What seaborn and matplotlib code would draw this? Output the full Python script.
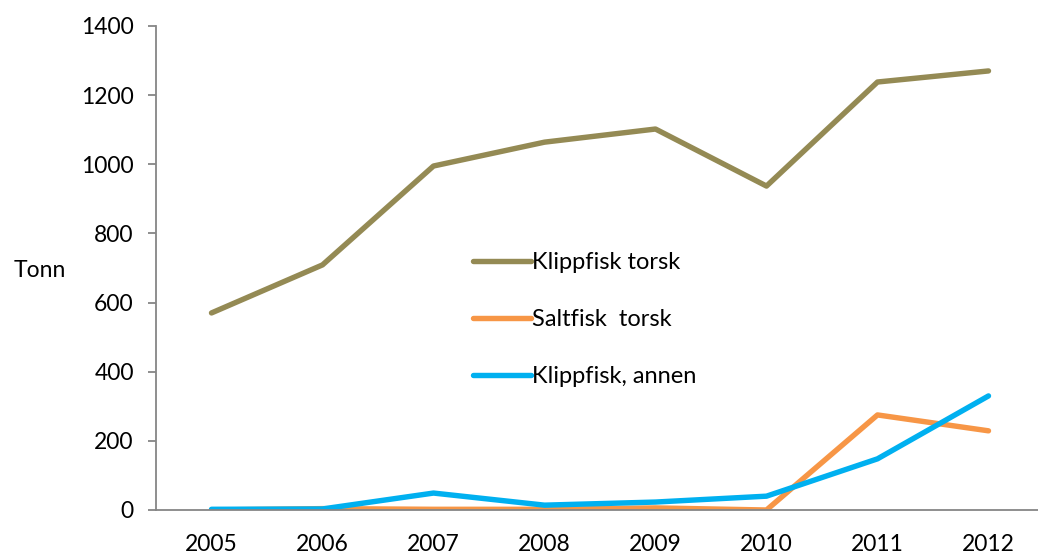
import matplotlib
matplotlib.use("Agg")
import matplotlib.pyplot as plt
import seaborn as sns
import pandas as pd

years = ["2005", "2006", "2007", "2008", "2009", "2010", "2011", "2012"]
klippfisk_torsk = [570, 709, 995, 1064, 1102, 937, 1238, 1270]
saltfisk_torsk = [0, 4, 2, 2, 6, 0, 275, 229]
klippfisk_annen = [2, 3, 49, 14, 23, 40, 148, 330]
series_names = ["Klippfisk torsk", "Saltfisk  torsk", "Klippfisk, annen"]
colors = ["#948A54", "#F79646", "#00B0F0"]

rows = []
for name, vals in zip(series_names, [klippfisk_torsk, saltfisk_torsk, klippfisk_annen]):
    for i, (y, v) in enumerate(zip(years, vals)):
        rows.append({"pos": i, "year": y, "value": v, "series": name})
df = pd.DataFrame(rows)

sns.set_theme(style="white")
plt.rcParams["font.family"] = ["Lato", "DejaVu Sans"]

W, H = 1038, 554
fig = plt.figure(figsize=(W / 100, H / 100), dpi=100)
ax = fig.add_axes([156 / W, (H - 510) / H, 888 / W, 484 / H])

sns.lineplot(data=df, x="pos", y="value", hue="series", hue_order=series_names,
             palette=colors, linewidth=3.9, ax=ax, legend=True, sort=False)
for ln in ax.get_lines():
    ln.set_solid_capstyle("round")
    ln.set_solid_joinstyle("round")

ax.set_xlim(-0.5, 7.5)
ax.set_ylim(0, 1400)
ax.set_yticks(range(0, 1401, 200))
ax.set_xticks(range(len(years)))
ax.set_xticklabels(years)
ax.set_xticks([i - 0.5 for i in range(len(years) + 1)], minor=True)

ax.tick_params(axis="x", which="major", length=0, labelsize=16.5, pad=17, colors="black")
ax.tick_params(axis="x", which="minor", length=6, width=1.3, color="#868686", direction="out")
ax.tick_params(axis="y", which="major", length=6, width=1.3, color="#868686",
               labelsize=16.5, pad=10, labelcolor="black", direction="out", left=True)

for s in ["top", "right"]:
    ax.spines[s].set_visible(False)
for s in ["left", "bottom"]:
    ax.spines[s].set_color("#868686")
    ax.spines[s].set_linewidth(1.3)

ax.set_xlabel("")
ax.set_ylabel("Tonn", rotation=0, fontsize=16.5, color="black", va="center")
ax.yaxis.set_label_coords(-0.131, 0.495)
ax.grid(False)

leg = ax.legend(loc="upper left", bbox_to_anchor=(0.333, 0.576), frameon=False,
                fontsize=17, handlelength=2.45, handletextpad=0.05, labelspacing=1.52)
for t in leg.get_texts():
    t.set_color("black")

fig.savefig("out.png", dpi=100)
